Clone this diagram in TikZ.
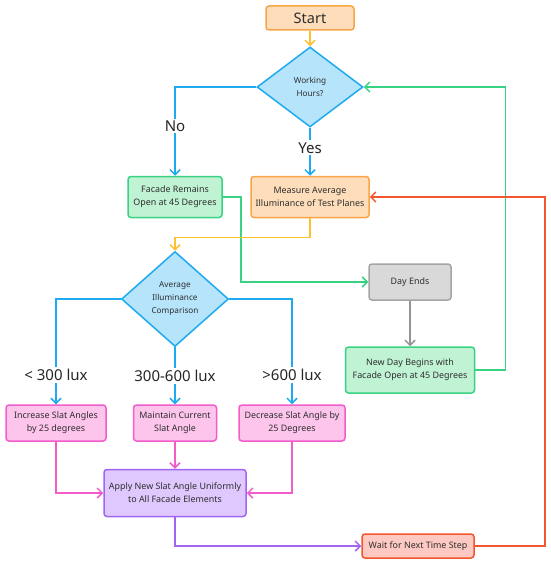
\documentclass[tikz,border=0pt]{standalone}
\usepackage{fontspec}
\setmainfont{Noto Sans}
\usetikzlibrary{arrows.meta,shapes.geometric}

\definecolor{txtgray}{HTML}{2E2E2E}
\definecolor{orgfill}{HTML}{FDDDBA}
\definecolor{orgline}{HTML}{F9A547}
\definecolor{bluefill}{HTML}{B5E4FB}
\definecolor{blueline}{HTML}{1EAAF1}
\definecolor{grnfill}{HTML}{C0F2D4}
\definecolor{grnline}{HTML}{38D282}
\definecolor{gryfill}{HTML}{D9D9D9}
\definecolor{gryline}{HTML}{A5A5A5}
\definecolor{pnkfill}{HTML}{FDC5EC}
\definecolor{pnkline}{HTML}{F25CCB}
\definecolor{prpfill}{HTML}{DFC8FD}
\definecolor{prpline}{HTML}{A165F3}
\definecolor{redfill}{HTML}{FDC9C2}
\definecolor{redline}{HTML}{F3562E}
\definecolor{ylwline}{HTML}{FDC12F}

\begin{document}
\begin{tikzpicture}[x=1pt,y=-1pt,
  box/.style={draw, line width=1.5pt, rounded corners=3pt, inner sep=0pt,
    align=center, text=txtgray, font=\fontsize{8.9}{13}\selectfont},
  decision/.style={diamond, draw=blueline, fill=bluefill, line width=1.5pt,
    inner sep=0pt, align=center, text=txtgray, font=\fontsize{8.2}{13}\selectfont},
  flow/.style={line width=1.5pt, -{Straight Barb[length=5pt,width=10pt]}},
  lbl/.style={fill=white, inner sep=2pt, text=black!85, font=\fontsize{15}{17}\selectfont}]

\useasboundingbox (0,0) rectangle (550,564);

% Nodes of the chart
\node[box, draw=orgline, fill=orgfill, minimum width=88pt, minimum height=24pt,
  font=\fontsize{14.5}{16}\selectfont] (start) at (310,18) {Start};
\node[decision, minimum width=106pt, minimum height=80pt] (work) at (310,87) {Working\\Hours?};
\node[box, draw=grnline, fill=grnfill, minimum width=94pt, minimum height=41pt] (facade) at (175,197) {Facade Remains\\Open at 45 Degrees};
\node[box, draw=orgline, fill=orgfill, minimum width=118pt, minimum height=41pt] (measure) at (310,197) {Measure Average\\Illuminance of Test Planes};
\node[box, draw=gryline, fill=gryfill, minimum width=82pt, minimum height=36pt] (dayend) at (410,282) {Day Ends};
\node[box, draw=grnline, fill=grnfill, minimum width=129pt, minimum height=46pt] (newday) at (410,370) {New Day Begins with\\Facade Open at 45 Degrees};
\node[decision, minimum width=107pt, minimum height=95pt] (compare) at (175,299) {Average\\Illuminance\\Comparison};
\node[box, draw=pnkline, fill=pnkfill, minimum width=100pt, minimum height=36pt] (increase) at (56,423) {Increase Slat Angles\\by 25 degrees};
\node[box, draw=pnkline, fill=pnkfill, minimum width=83pt, minimum height=36pt] (maintain) at (175,423) {Maintain Current\\Slat Angle};
\node[box, draw=pnkline, fill=pnkfill, minimum width=106pt, minimum height=36pt] (decrease) at (292,423) {Decrease Slat Angle by\\25 Degrees};
\node[box, draw=prpline, fill=prpfill, minimum width=142pt, minimum height=47pt] (apply) at (175,493) {Apply New Slat Angle Uniformly\\to All Facade Elements};
\node[box, draw=redline, fill=redfill, minimum width=112pt, minimum height=24pt] (wait) at (418,546) {Wait for Next Time Step};

% Connectors
\draw[flow, ylwline] (start) -- (work);
\draw[flow, blueline] (work.west) -| (facade.north) node[lbl, pos=0.72] {No};
\draw[flow, blueline] (work.south) -- (measure.north) node[lbl, pos=0.42] {Yes};
\draw[flow, grnline] (facade.east) -- ++(18,0) |- (dayend.west);
\draw[flow, ylwline] (measure.south) -- ++(0,19) -| (compare.north);
\draw[flow, gryline!90!black] (dayend) -- (newday);
\draw[flow, grnline] (newday.east) -- ++(30,0) |- (work.east);

% Branches of the comparison
\draw[flow, blueline] (compare.west) -| (increase.north) node[lbl, pos=0.86] {< 300 lux};
\draw[flow, blueline] (compare.south) -- (maintain.north) node[lbl, pos=0.5] {300-600 lux};
\draw[flow, blueline] (compare.east) -| (decrease.north) node[lbl, pos=0.86] {>600 lux};

\draw[flow, pnkline] (increase.south) |- (apply.west);
\draw[flow, pnkline] (maintain) -- (apply);
\draw[flow, pnkline] (decrease.south) |- (apply.east);
\draw[flow, prpline] (apply.south) |- (wait.west);
\draw[flow, redline] (wait.east) -- ++(70,0) |- (measure.east);

\end{tikzpicture}
\end{document}
